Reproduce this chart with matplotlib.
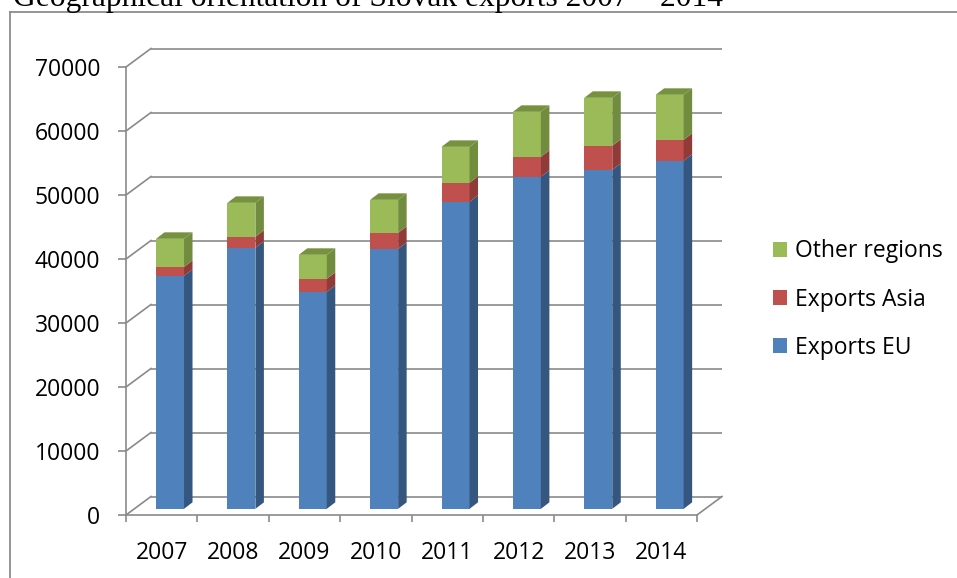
import matplotlib
matplotlib.use("Agg")
import matplotlib.pyplot as plt
from matplotlib.patches import Polygon, Patch
from matplotlib.lines import Line2D
import numpy as np

# ---------------- data ----------------
years = ["2007", "2008", "2009", "2010", "2011", "2012", "2013", "2014"]
exports_eu = [36400, 40780, 33900, 40620, 47970, 51870, 52970, 54380]
exports_asia = [1400, 1720, 2040, 2500, 2970, 3130, 3750, 3280]
other_regions = [4390, 5310, 3750, 5160, 5620, 7030, 7500, 7030]
series_names = ["Exports EU", "Exports Asia", "Other regions"]
y_ticks = [0, 10000, 20000, 30000, 40000, 50000, 60000, 70000]
title = "Geographical orientation of Slovak exports 2007 \u2013 2014"

# ---------------- style ----------------
front_cols = ["#4F81BD", "#C0504D", "#9BBB59"]
side_cols = ["#34567F", "#913B39", "#718C3E"]
top_col = "#77923F"
grid_col = "#8A8A8A"
font = ["Open Sans", "DejaVu Sans"]

W, H, DPI = 957, 578, 100
fig = plt.figure(figsize=(W / DPI, H / DPI), dpi=DPI)
fig.patch.set_facecolor("white")

# front plane of the plot (pixels from top-left)
L, R, T, B = 126, 697, 67, 515
ax = fig.add_axes([L / W, 1 - B / H, (R - L) / W, (B - T) / H])
ax.set_xlim(0, len(years))
ax.set_ylim(0, 70000)
ax.patch.set_visible(False)

px_x = len(years) / (R - L)          # data units per pixel
px_y = 70000 / (B - T)
DX, DY = 25 * px_x, 18.5 * px_y      # wall depth
BX, BY = DX / 3, DY / 3              # bar plane offset
SX, SY = 8.5 * px_x, 6.5 * px_y      # bar depth
bw = 28 * px_x

lw = 1.2
# back wall gridlines + left wall diagonals
for v in y_ticks:
    ax.plot([DX, len(years) + DX], [v + DY, v + DY], color=grid_col, lw=lw,
            clip_on=False, zorder=1, solid_capstyle="butt")
    ax.plot([0, DX], [v, v + DY], color=grid_col, lw=lw, clip_on=False, zorder=1)
# floor right edge
ax.plot([len(years), len(years) + DX], [0, DY], color=grid_col, lw=lw,
        clip_on=False, zorder=1)

# bars
x = np.arange(len(years)) + 0.5
series = [exports_eu, exports_asia, other_regions]
bottom = np.zeros(len(years))
for k, vals in enumerate(series):
    vals = np.array(vals, dtype=float)
    ax.bar(x + BX, vals, width=bw, bottom=bottom + BY, color=front_cols[k],
           edgecolor="none", zorder=3, clip_on=False)
    for i in range(len(years)):
        xr = x[i] + BX + bw / 2
        b0 = bottom[i] + BY
        b1 = bottom[i] + vals[i] + BY
        ax.add_patch(Polygon([[xr, b0], [xr + SX, b0 + SY], [xr + SX, b1 + SY], [xr, b1]],
                             closed=True, facecolor=side_cols[k], edgecolor="none",
                             zorder=3, clip_on=False))
        if k == len(series) - 1:
            xl = x[i] + BX - bw / 2
            ax.add_patch(Polygon([[xl, b1], [xl + SX, b1 + SY], [xr + SX, b1 + SY], [xr, b1]],
                                 closed=True, facecolor=top_col, edgecolor="none",
                                 zorder=3, clip_on=False))
    bottom = bottom + vals

# axes spines / ticks
for s in ["top", "right"]:
    ax.spines[s].set_visible(False)
for s in ["left", "bottom"]:
    ax.spines[s].set_color(grid_col)
    ax.spines[s].set_linewidth(lw)
ax.set_yticks(y_ticks)
ax.set_yticklabels([str(v) for v in y_ticks], fontfamily=font, fontsize=16.5)
ax.tick_params(axis="y", length=6, width=lw, color=grid_col, pad=12.5)
ax.set_xticks(np.arange(len(years) + 1))
ax.set_xticklabels([])
ax.tick_params(axis="x", which="major", length=5, width=lw, color=grid_col)
ax.set_xticks(x, minor=True)
ax.set_xticklabels(years, minor=True, fontfamily=font, fontsize=16.5)
ax.tick_params(axis="x", which="minor", length=0, pad=18.5)

# legend
handles = [Patch(facecolor=front_cols[k]) for k in [2, 1, 0]]
labels = [series_names[k] for k in [2, 1, 0]]
fig.legend(handles, labels, loc="center left",
           bbox_to_anchor=(773 / W, 1 - 299.5 / H), frameon=False,
           prop={"family": font, "size": 16.5}, handlelength=0.63,
           handleheight=0.63, handletextpad=0.32, labelspacing=1.05,
           borderpad=0, borderaxespad=0)

# outer frame lines
fig.add_artist(Line2D([10 / W, 10 / W], [0, 1 - 12 / H], color="#8C8C8C", lw=1.3,
                      transform=fig.transFigure))
fig.add_artist(Line2D([10 / W, 1], [1 - 12 / H, 1 - 12 / H], color="#8C8C8C", lw=1.3,
                      transform=fig.transFigure))

# title (partially cut off at top), fit to width
t = fig.text(13 / W, 1 - 6 / H, title, family="Liberation Serif", fontsize=20,
             ha="left", va="baseline", color="black")
fig.canvas.draw()
ext = t.get_window_extent(fig.canvas.get_renderer())
t.set_fontsize(20 * (723 - 13) / ext.width)

fig.savefig("out.png", dpi=DPI)
